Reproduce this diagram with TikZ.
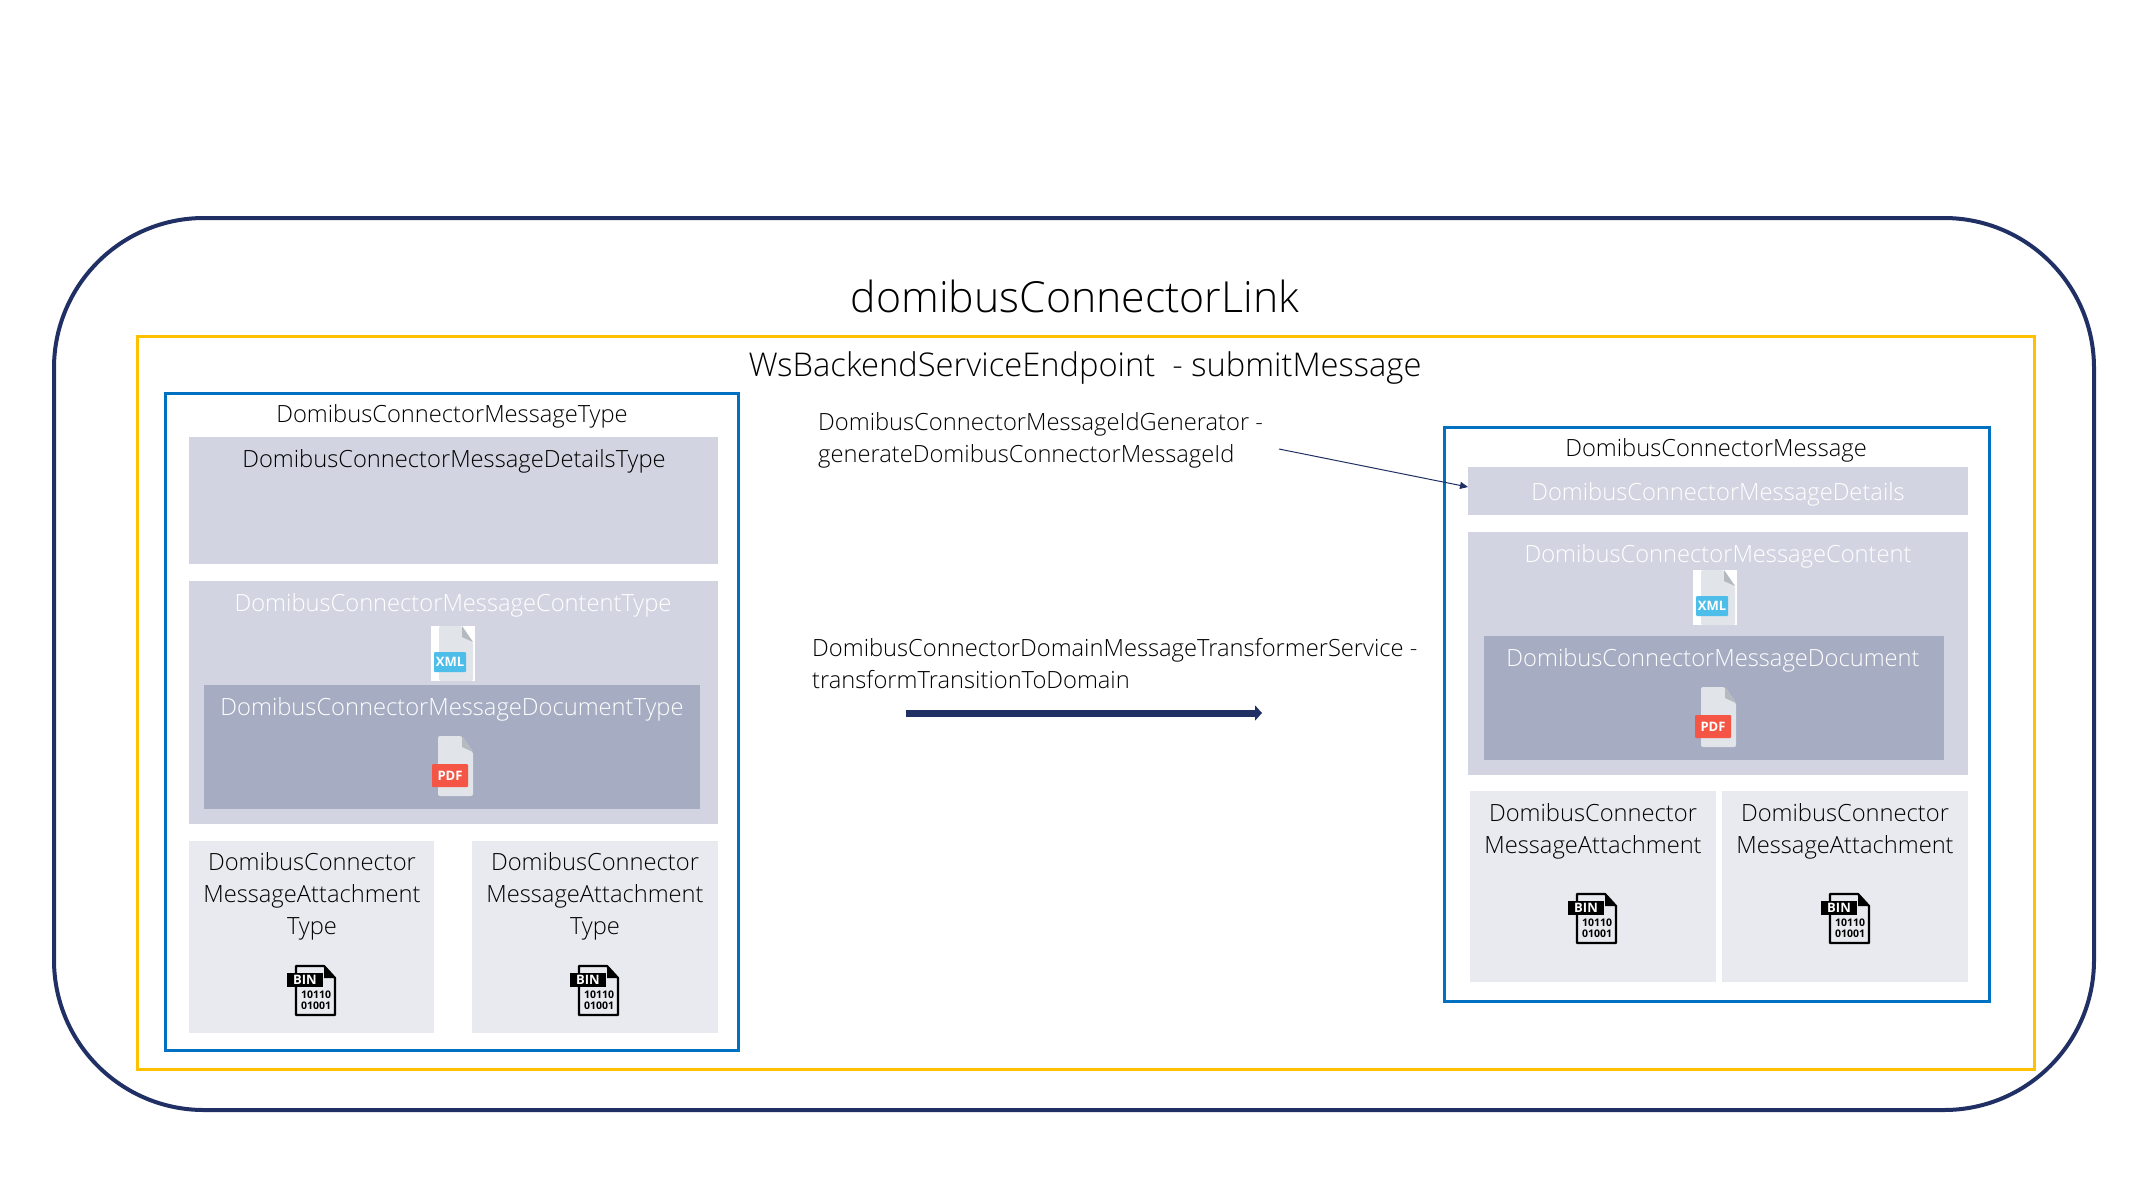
\documentclass[tikz,border=0pt]{standalone}
\usepackage{fontspec}
\setmainfont{Open Sans Light}
\newfontfamily\iconfont{Open Sans}
\usetikzlibrary{arrows.meta}
\definecolor{navy}{HTML}{203064}
\definecolor{gold}{HTML}{FFC000}
\definecolor{azure}{HTML}{0070C0}
\definecolor{lightpanel}{HTML}{D2D5E1}
\definecolor{darkpanel}{HTML}{A6ACC2}
\definecolor{palepanel}{HTML}{E9EAEF}
\definecolor{sheet}{HTML}{E1E4E8}
\definecolor{fold}{HTML}{B4BAC0}
\definecolor{xmlblue}{HTML}{4DBDE9}
\definecolor{pdfred}{HTML}{F45544}
\tikzset{
  x=1pt,y=-1pt,
  panel/.style={rectangle,inner sep=0pt,outer sep=0pt,anchor=north west},
  frameblue/.style={panel,draw=azure,line width=3pt},
  frameyellow/.style={panel,draw=gold,line width=3pt},
  frameouter/.style={panel,draw=navy,line width=4pt,rounded corners=150pt},
  light/.style={panel,fill=lightpanel},
  dark/.style={panel,fill=darkpanel},
  pale/.style={panel,fill=palepanel},
  label/.style={inner sep=0pt,align=center,text=black,font=\fontsize{23.7}{32}\selectfont},
  whitelabel/.style={label,text=white},
  leftlabel/.style={label,align=left,anchor=west},
  thinarrow/.style={draw=navy,line width=1pt,-{Triangle[length=8pt,width=7pt]}},
  thickarrow/.style={draw=navy,line width=7pt,-{Triangle[length=7pt,width=15pt]}},
  badge/.style={inner sep=0pt,text=white,font=\iconfont\fontsize{13}{13}\selectfont\bfseries},
}
\newcommand{\panelbox}[6]{\node[#2,minimum width={(#5-#3)*1pt},minimum height={(#6-#4)*1pt}] (#1) at (#3,#4) {};}
% page outline with folded corner, origin top left of the page
\newcommand{\sheetshape}[2]{%
  \fill[sheet,rounded corners=2pt] (0,0) -- (#1-11,0) -- (#1,16) -- (#1,#2) -- (0,#2) -- cycle;
  \fill[fold] (#1-11,0) -- (#1,16) -- (#1-11,11) -- cycle;}
\newcommand{\xmlicon}[3]{\begin{scope}[shift={(#2,#3)}]
  \fill[white] (-8,0) rectangle (36,55);
  \sheetshape{34}{55}
  \fill[xmlblue,rounded corners=1pt] (-5,26) rectangle (27,46);
  \node[badge] (#1) at (11,36) {XML};
\end{scope}}
\newcommand{\pdficon}[3]{\begin{scope}[shift={(#2,#3)}]
  \sheetshape{35}{60}
  \fill[pdfred,rounded corners=1pt] (-6,28) rectangle (30,51);
  \node[badge] (#1) at (12,39.5) {PDF};
\end{scope}}
\newcommand{\binicon}[3]{\begin{scope}[shift={(#2,#3)}]
  \draw[black,line width=2.2pt,line join=round] (0,1) -- (28,1) -- (39,13) -- (39,50) -- (0,50) -- cycle;
  \fill[black] (28,0) -- (40,13) -- (28,13) -- cycle;
  \fill[black] (-9,8) rectangle (27,22);
  \node[badge] (#1) at (9,15) {BIN};
  \node[inner sep=0pt,text=black,font=\iconfont\fontsize{10.5}{10.5}\selectfont\bfseries] (#1a) at (20,30) {10110};
  \node[inner sep=0pt,text=black,font=\iconfont\fontsize{10.5}{10.5}\selectfont\bfseries] (#1b) at (20,41) {01001};
\end{scope}}
\begin{document}
\begin{tikzpicture}
\useasboundingbox (0,0) rectangle (2133,1200);
\fill[white] (0,0) rectangle (2133,1200);
% frames
\panelbox{outer}{frameouter}{54}{218}{2094}{1110}
\panelbox{endpoint}{frameyellow}{137}{336}{2034}{1069}
\panelbox{leftframe}{frameblue}{165}{393}{738}{1050}
\panelbox{rightframe}{frameblue}{1444}{427}{1989}{1001}
% left panels
\panelbox{ldetails}{light}{189}{437}{718}{564}
\panelbox{lcontent}{light}{189}{581}{718}{824}
\panelbox{ldocument}{dark}{204}{685}{700}{809}
\panelbox{lattachA}{pale}{189}{841}{434}{1033}
\panelbox{lattachB}{pale}{472}{841}{718}{1033}
% right panels
\panelbox{rdetails}{light}{1468}{467}{1968}{515}
\panelbox{rcontent}{light}{1468}{532}{1968}{775}
\panelbox{rdocument}{dark}{1484}{636}{1944}{760}
\panelbox{rattachA}{pale}{1470}{791}{1716}{982}
\panelbox{rattachB}{pale}{1722}{791}{1968}{982}
% titles
\node[label,font=\fontsize{42.8}{48}\selectfont] (title) at (1075,296) {domibusConnectorLink};
\node[label,font=\fontsize{32.7}{40}\selectfont] (service) at (1085,368) {WsBackendServiceEndpoint\ \ - submitMessage};
% left text
\node[label] (ltitle) at (452,416) {DomibusConnectorMessageType};
\node[label] (ldetailstext) at (454,461) {DomibusConnectorMessageDetailsType};
\node[whitelabel] (lcontenttext) at (453,605) {DomibusConnectorMessageContentType};
\node[whitelabel] (ldocumenttext) at (452,709) {DomibusConnectorMessageDocumentType};
\node[label] (lattachAtext) at (312,896) {DomibusConnector\\MessageAttachment\\Type};
\node[label] (lattachBtext) at (595,896) {DomibusConnector\\MessageAttachment\\Type};
% right text
\node[label] (rtitle) at (1716,450) {DomibusConnectorMessage};
\node[whitelabel] (rdetailstext) at (1718,494) {DomibusConnectorMessageDetails};
\node[whitelabel] (rcontenttext) at (1718,556) {DomibusConnectorMessageContent};
\node[whitelabel] (rdocumenttext) at (1713,660) {DomibusConnectorMessageDocument};
\node[label] (rattachAtext) at (1593,831) {DomibusConnector\\MessageAttachment};
\node[label] (rattachBtext) at (1845,831) {DomibusConnector\\MessageAttachment};
% middle text
\node[leftlabel] (idgen) at (818,440) {DomibusConnectorMessageIdGenerator -\\generateDomibusConnectorMessageId};
\node[leftlabel] (transformer) at (812,664) {DomibusConnectorDomainMessageTransformerService -\\transformTransitionToDomain};
% icons
\xmlicon{lxml}{439}{626}
\pdficon{lpdf}{438}{736}
\binicon{lbinA}{296}{965}
\binicon{lbinB}{579}{965}
\xmlicon{rxml}{1701}{570}
\pdficon{rpdf}{1701}{687}
\binicon{rbinA}{1577}{893}
\binicon{rbinB}{1830}{893}
% connectors
\coordinate (idstart) at (1279,449);
\coordinate (thickstart) at (906,713);
\coordinate (thickend) at (1262,713);
\draw[thinarrow] (idstart) -- ([yshift=4pt]rdetails.west);
\draw[thickarrow] (thickstart) -- (thickend);
\end{tikzpicture}
\end{document}
